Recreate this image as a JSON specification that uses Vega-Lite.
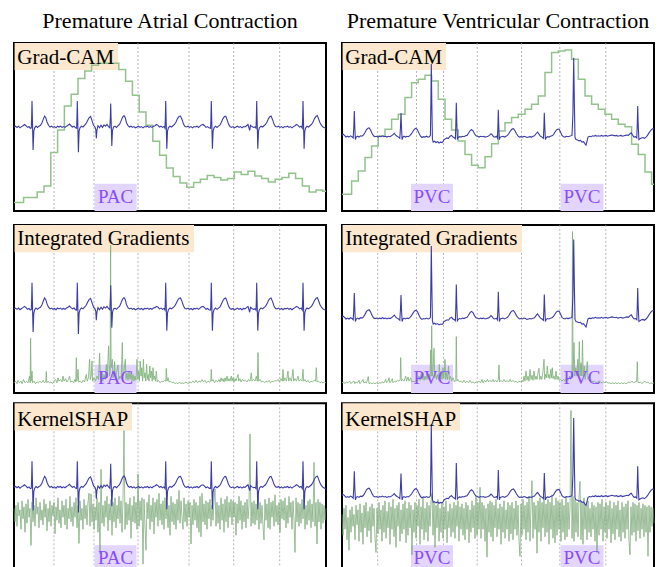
{
"$schema": "https://vega.github.io/schema/vega-lite/v6.json",
"padding": {"left": 10, "top": 8, "right": 2, "bottom": 2},
"config": {"view": {"stroke": "#000", "strokeWidth": 2}, "title": {"font": "Liberation Serif", "fontSize": 22, "fontWeight": "normal", "color": "#000", "offset": 10}},
"datasets": {
"gA": [{"b":40},{"b":80},{"b":124},{"b":175},{"b":219.7},{"b":265.7}],
"gV": [{"b":35.7},{"b":74.5},{"b":101.5},{"b":135.2},{"b":179.5},{"b":217.8},{"b":263.8}],
"eA": [{"ev":"PAC","start":80.5,"end":122.5,"mid":101.5}],
"eV": [{"ev":"PVC","start":69,"end":111,"mid":90},{"ev":"PVC","start":218.5,"end":261.5,"mid":240}],
"cA": [{"t":0,"a":0.05},{"t":9.6,"a":0.08},{"t":16.4,"a":0.08},{"t":23.2,"a":0.113},{"t":30,"a":0.149},{"t":36.8,"a":0.348},{"t":43.6,"a":0.482},{"t":50.4,"a":0.625},{"t":57.2,"a":0.695},{"t":64,"a":0.788},{"t":70.8,"a":0.833},{"t":77.6,"a":0.867},{"t":84.4,"a":0.879},{"t":91.2,"a":0.879},{"t":98,"a":0.879},{"t":104.8,"a":0.842},{"t":111.6,"a":0.772},{"t":118.4,"a":0.689},{"t":125.2,"a":0.589},{"t":132,"a":0.51},{"t":138.8,"a":0.415},{"t":145.6,"a":0.332},{"t":152.4,"a":0.256},{"t":159.2,"a":0.205},{"t":166,"a":0.167},{"t":172.8,"a":0.141},{"t":179.6,"a":0.169},{"t":186.4,"a":0.189},{"t":193.2,"a":0.212},{"t":200,"a":0.199},{"t":206.8,"a":0.185},{"t":213.6,"a":0.193},{"t":220.4,"a":0.232},{"t":227.2,"a":0.218},{"t":234,"a":0.236},{"t":240.8,"a":0.208},{"t":247.6,"a":0.193},{"t":254.4,"a":0.173},{"t":261.2,"a":0.189},{"t":268,"a":0.199},{"t":274.8,"a":0.224},{"t":281.6,"a":0.193},{"t":288.4,"a":0.149},{"t":295.2,"a":0.113},{"t":302,"a":0.125},{"t":308.8,"a":0.117},{"t":312,"a":0.117}],
"cV": [{"t":0,"a":0.1},{"t":9.6,"a":0.179},{"t":16.3,"a":0.238},{"t":23,"a":0.318},{"t":29.6,"a":0.387},{"t":36.3,"a":0.447},{"t":43,"a":0.486},{"t":49.6,"a":0.546},{"t":56.3,"a":0.576},{"t":63,"a":0.675},{"t":69.6,"a":0.764},{"t":76.3,"a":0.784},{"t":83,"a":0.808},{"t":89.6,"a":0.774},{"t":96.3,"a":0.665},{"t":103,"a":0.546},{"t":109.6,"a":0.482},{"t":116.3,"a":0.417},{"t":123,"a":0.337},{"t":129.6,"a":0.272},{"t":136.3,"a":0.258},{"t":143,"a":0.323},{"t":149.6,"a":0.4},{"t":156.3,"a":0.476},{"t":163,"a":0.526},{"t":169.6,"a":0.556},{"t":176.3,"a":0.576},{"t":183,"a":0.605},{"t":189.6,"a":0.635},{"t":196.3,"a":0.685},{"t":203,"a":0.824},{"t":209.6,"a":0.943},{"t":216.3,"a":0.953},{"t":223,"a":0.959},{"t":229.6,"a":0.903},{"t":236.3,"a":0.784},{"t":243,"a":0.685},{"t":249.6,"a":0.635},{"t":256.3,"a":0.605},{"t":263,"a":0.576},{"t":269.6,"a":0.546},{"t":276.3,"a":0.516},{"t":283,"a":0.502},{"t":289.6,"a":0.397},{"t":296.3,"a":0.337},{"t":303,"a":0.232},{"t":309.6,"a":0.159},{"t":312,"a":0.159}],
"ecgA": [{"t":0,"v":0},{"t":1.5,"v":0.02},{"t":3,"v":-0.01},{"t":4.5,"v":0.02},{"t":6,"v":-0.02},{"t":7.5,"v":0.01},{"t":9,"v":0.03},{"t":10.5,"v":0.06},{"t":12,"v":0.03},{"t":13.5,"v":-0.01},{"t":15,"v":0.01},{"t":16.3,"v":-0.03},{"t":17.3,"v":-0.02},{"t":17.7,"v":0.25},{"t":18,"v":0.62},{"t":18.4,"v":0.2},{"t":19.1,"v":-0.55},{"t":19.8,"v":-0.1},{"t":20.7,"v":-0.02},{"t":22,"v":0.02},{"t":23.5,"v":-0.01},{"t":25,"v":0.02},{"t":26.5,"v":0.04},{"t":28,"v":0.1},{"t":29.5,"v":0.2},{"t":30.6,"v":0.26},{"t":31.8,"v":0.22},{"t":33,"v":0.12},{"t":34.5,"v":0.04},{"t":36,"v":0},{"t":37.5,"v":0.02},{"t":39,"v":-0.01},{"t":40.5,"v":0.01},{"t":42,"v":-0.02},{"t":43.5,"v":0.02},{"t":45,"v":0},{"t":46.5,"v":0.02},{"t":48,"v":-0.01},{"t":49.5,"v":0.01},{"t":51,"v":-0.01},{"t":52.5,"v":0.02},{"t":54,"v":0.04},{"t":55.5,"v":0.07},{"t":57,"v":0.03},{"t":58.5,"v":0},{"t":60,"v":0.02},{"t":61.5,"v":-0.02},{"t":62.6,"v":-0.03},{"t":63,"v":0.25},{"t":63.3,"v":0.62},{"t":63.7,"v":0.2},{"t":64.4,"v":-0.6},{"t":65.1,"v":-0.1},{"t":66,"v":-0.02},{"t":67.5,"v":0.02},{"t":69,"v":0},{"t":70.5,"v":0.04},{"t":72,"v":0.08},{"t":73.5,"v":0.15},{"t":75,"v":0.22},{"t":76.6,"v":0.25},{"t":78,"v":0.15},{"t":79.5,"v":0.04},{"t":81,"v":0},{"t":81.8,"v":-0.06},{"t":82.3,"v":-0.27},{"t":82.9,"v":-0.08},{"t":84,"v":0.03},{"t":85.5,"v":-0.02},{"t":87,"v":0.04},{"t":88.5,"v":-0.01},{"t":90,"v":0.05},{"t":91.5,"v":0.02},{"t":93,"v":0.06},{"t":94.5,"v":0.01},{"t":95.8,"v":-0.02},{"t":96.4,"v":0.25},{"t":96.7,"v":0.56},{"t":97.1,"v":0.2},{"t":97.8,"v":-0.45},{"t":98.5,"v":-0.08},{"t":99.5,"v":0},{"t":101,"v":0.02},{"t":102.5,"v":-0.01},{"t":104,"v":0.03},{"t":105.5,"v":0.06},{"t":107,"v":0.14},{"t":108.5,"v":0.23},{"t":110,"v":0.27},{"t":111.3,"v":0.22},{"t":112.5,"v":0.1},{"t":114,"v":0.03},{"t":115.5,"v":0},{"t":117,"v":0.02},{"t":118.5,"v":-0.01},{"t":120,"v":0.01},{"t":121.5,"v":-0.02},{"t":123,"v":0},{"t":124.5,"v":0.02},{"t":126,"v":-0.01},{"t":127.5,"v":0.01},{"t":129,"v":-0.02},{"t":130.5,"v":0.01},{"t":132,"v":0},{"t":133.5,"v":0.02},{"t":135,"v":-0.01},{"t":136.5,"v":0.01},{"t":138,"v":-0.01},{"t":139.5,"v":0.02},{"t":141,"v":0.03},{"t":142.5,"v":0.06},{"t":144,"v":0.04},{"t":145.5,"v":0},{"t":147,"v":0.02},{"t":148.5,"v":-0.01},{"t":150,"v":0.01},{"t":151,"v":-0.03},{"t":151.4,"v":0.25},{"t":151.7,"v":0.62},{"t":152.1,"v":0.2},{"t":152.8,"v":-0.52},{"t":153.5,"v":-0.1},{"t":154.4,"v":-0.02},{"t":156,"v":0.02},{"t":157.5,"v":0},{"t":159,"v":0.03},{"t":160.5,"v":0.06},{"t":162,"v":0.12},{"t":163.5,"v":0.2},{"t":165,"v":0.25},{"t":166.5,"v":0.26},{"t":168,"v":0.18},{"t":169.5,"v":0.07},{"t":171,"v":0.01},{"t":172.5,"v":0},{"t":174,"v":0.02},{"t":175.5,"v":-0.01},{"t":177,"v":0.01},{"t":178.5,"v":-0.02},{"t":180,"v":0.01},{"t":181.5,"v":0},{"t":183,"v":0.02},{"t":184.5,"v":-0.01},{"t":186,"v":0.02},{"t":187.5,"v":0.05},{"t":189,"v":0.06},{"t":190.5,"v":0.03},{"t":192,"v":-0.01},{"t":193.5,"v":0.01},{"t":195,"v":-0.02},{"t":196.6,"v":-0.03},{"t":197,"v":0.25},{"t":197.3,"v":0.62},{"t":197.7,"v":0.2},{"t":198.4,"v":-0.52},{"t":199.1,"v":-0.1},{"t":200,"v":-0.02},{"t":201.5,"v":0.02},{"t":203,"v":-0.01},{"t":204.5,"v":0.02},{"t":206,"v":0.05},{"t":207.5,"v":0.12},{"t":209,"v":0.2},{"t":210.5,"v":0.25},{"t":211.7,"v":0.26},{"t":213,"v":0.18},{"t":214.5,"v":0.07},{"t":216,"v":0.01},{"t":217.5,"v":-0.01},{"t":219,"v":0.01},{"t":220.5,"v":-0.02},{"t":222,"v":0},{"t":223.5,"v":0.02},{"t":225,"v":-0.01},{"t":226.5,"v":0.01},{"t":228,"v":-0.02},{"t":229.5,"v":0.01},{"t":231,"v":0},{"t":232.5,"v":0.03},{"t":234,"v":0.06},{"t":235.7,"v":-0.08},{"t":236.5,"v":0.04},{"t":238,"v":0.01},{"t":239.5,"v":-0.01},{"t":241,"v":0},{"t":242,"v":-0.03},{"t":242.4,"v":0.25},{"t":242.7,"v":0.62},{"t":243.1,"v":0.2},{"t":243.8,"v":-0.52},{"t":244.5,"v":-0.1},{"t":245.4,"v":-0.02},{"t":247,"v":0.02},{"t":248.5,"v":0},{"t":250,"v":0.03},{"t":251.5,"v":0.06},{"t":253,"v":0.12},{"t":254.5,"v":0.2},{"t":256,"v":0.25},{"t":257,"v":0.26},{"t":258.5,"v":0.18},{"t":260,"v":0.07},{"t":261.5,"v":0.01},{"t":263,"v":0},{"t":264.5,"v":0.02},{"t":266,"v":-0.01},{"t":267.5,"v":0.01},{"t":269,"v":-0.02},{"t":270.5,"v":0.01},{"t":272,"v":0},{"t":273.5,"v":0.02},{"t":275,"v":-0.01},{"t":276.5,"v":0.01},{"t":278,"v":-0.02},{"t":279.5,"v":0.01},{"t":281,"v":0.03},{"t":282.5,"v":0.06},{"t":284,"v":0.04},{"t":285.5,"v":0},{"t":287,"v":0.02},{"t":288.3,"v":-0.03},{"t":288.7,"v":0.25},{"t":289,"v":0.62},{"t":289.4,"v":0.2},{"t":290.1,"v":-0.52},{"t":290.8,"v":-0.1},{"t":291.7,"v":-0.02},{"t":293,"v":0.02},{"t":294.5,"v":0},{"t":296,"v":0.03},{"t":297.5,"v":0.06},{"t":299,"v":0.12},{"t":300.5,"v":0.2},{"t":302,"v":0.25},{"t":303.3,"v":0.27},{"t":304.5,"v":0.2},{"t":306,"v":0.1},{"t":307.5,"v":0.04},{"t":309,"v":0},{"t":310.5,"v":-0.02},{"t":312,"v":-0.03}],
"ecgV": [{"t":0,"v":-0.2},{"t":1,"v":-0.17},{"t":2.5,"v":-0.2},{"t":4,"v":-0.24},{"t":5.5,"v":-0.22},{"t":7,"v":-0.24},{"t":8.5,"v":-0.21},{"t":10,"v":-0.23},{"t":11.2,"v":-0.26},{"t":11.8,"v":0},{"t":12.3,"v":0.38},{"t":12.8,"v":0},{"t":13.4,"v":-0.3},{"t":14.2,"v":-0.24},{"t":15.5,"v":-0.22},{"t":17,"v":-0.24},{"t":18.5,"v":-0.21},{"t":20,"v":-0.22},{"t":21.5,"v":-0.19},{"t":23,"v":-0.13},{"t":24.5,"v":-0.06},{"t":26,"v":-0.03},{"t":27.2,"v":-0.02},{"t":28.5,"v":-0.07},{"t":30,"v":-0.15},{"t":31.5,"v":-0.21},{"t":33,"v":-0.23},{"t":34.5,"v":-0.22},{"t":36,"v":-0.24},{"t":37.5,"v":-0.22},{"t":39,"v":-0.23},{"t":40.5,"v":-0.21},{"t":42,"v":-0.23},{"t":43.5,"v":-0.22},{"t":45,"v":-0.24},{"t":46.5,"v":-0.22},{"t":48,"v":-0.23},{"t":49.5,"v":-0.21},{"t":51,"v":-0.18},{"t":52.3,"v":-0.15},{"t":53.5,"v":-0.19},{"t":55,"v":-0.22},{"t":56.5,"v":-0.24},{"t":57.8,"v":-0.27},{"t":58.5,"v":0},{"t":59,"v":0.33},{"t":59.5,"v":0},{"t":60.1,"v":-0.3},{"t":60.9,"v":-0.24},{"t":62,"v":-0.22},{"t":63.5,"v":-0.24},{"t":65,"v":-0.22},{"t":66.5,"v":-0.23},{"t":68,"v":-0.2},{"t":69.5,"v":-0.16},{"t":71,"v":-0.1},{"t":72.5,"v":-0.05},{"t":74,"v":-0.03},{"t":75.5,"v":-0.07},{"t":77,"v":-0.15},{"t":78.5,"v":-0.22},{"t":80,"v":-0.25},{"t":81.5,"v":-0.23},{"t":83,"v":-0.24},{"t":84.5,"v":-0.22},{"t":86,"v":-0.24},{"t":87.5,"v":-0.23},{"t":88.4,"v":-0.2},{"t":88.9,"v":0.6},{"t":89.3,"v":1.5},{"t":89.8,"v":0.6},{"t":90.4,"v":-0.28},{"t":91.2,"v":-0.36},{"t":92.5,"v":-0.34},{"t":94,"v":-0.37},{"t":95.5,"v":-0.35},{"t":97,"v":-0.38},{"t":98.5,"v":-0.36},{"t":100,"v":-0.37},{"t":101,"v":-0.35},{"t":102,"v":-0.3},{"t":103.5,"v":-0.28},{"t":105,"v":-0.26},{"t":106.5,"v":-0.27},{"t":108,"v":-0.22},{"t":109.5,"v":-0.2},{"t":111,"v":-0.24},{"t":112.5,"v":-0.26},{"t":113.4,"v":-0.28},{"t":113.9,"v":0.1},{"t":114.3,"v":0.58},{"t":114.8,"v":0.1},{"t":115.4,"v":-0.28},{"t":116.2,"v":-0.25},{"t":117.5,"v":-0.23},{"t":119,"v":-0.24},{"t":120.5,"v":-0.22},{"t":122,"v":-0.23},{"t":123.5,"v":-0.21},{"t":125,"v":-0.2},{"t":126.5,"v":-0.15},{"t":128,"v":-0.09},{"t":129.5,"v":-0.06},{"t":131,"v":-0.09},{"t":132.5,"v":-0.16},{"t":134,"v":-0.21},{"t":135.5,"v":-0.22},{"t":137,"v":-0.24},{"t":138.5,"v":-0.22},{"t":140,"v":-0.23},{"t":141.5,"v":-0.22},{"t":143,"v":-0.24},{"t":144.5,"v":-0.23},{"t":146,"v":-0.22},{"t":147.5,"v":-0.2},{"t":149,"v":-0.16},{"t":150.3,"v":-0.19},{"t":151.5,"v":-0.23},{"t":153,"v":-0.24},{"t":154.5,"v":-0.22},{"t":155.4,"v":-0.26},{"t":155.9,"v":0},{"t":156.3,"v":0.41},{"t":156.8,"v":0},{"t":157.4,"v":-0.3},{"t":158.2,"v":-0.24},{"t":159.5,"v":-0.23},{"t":161,"v":-0.22},{"t":162.5,"v":-0.24},{"t":164,"v":-0.22},{"t":165.5,"v":-0.2},{"t":167,"v":-0.15},{"t":168.5,"v":-0.09},{"t":170,"v":-0.05},{"t":171.5,"v":-0.04},{"t":173,"v":-0.09},{"t":174.5,"v":-0.16},{"t":176,"v":-0.21},{"t":177.5,"v":-0.24},{"t":179,"v":-0.23},{"t":180.5,"v":-0.24},{"t":182,"v":-0.22},{"t":183.5,"v":-0.23},{"t":185,"v":-0.25},{"t":186.5,"v":-0.24},{"t":188,"v":-0.23},{"t":189.5,"v":-0.24},{"t":191,"v":-0.22},{"t":192.5,"v":-0.21},{"t":194,"v":-0.16},{"t":195.5,"v":-0.12},{"t":197,"v":-0.17},{"t":198.5,"v":-0.22},{"t":200,"v":-0.24},{"t":201.4,"v":-0.27},{"t":201.9,"v":0},{"t":202.3,"v":0.34},{"t":202.8,"v":0},{"t":203.4,"v":-0.3},{"t":204.2,"v":-0.25},{"t":205.5,"v":-0.23},{"t":207,"v":-0.24},{"t":208.5,"v":-0.22},{"t":210,"v":-0.21},{"t":211.5,"v":-0.18},{"t":213,"v":-0.12},{"t":214.5,"v":-0.07},{"t":216,"v":-0.05},{"t":217.3,"v":-0.06},{"t":218.5,"v":-0.12},{"t":220,"v":-0.2},{"t":221.5,"v":-0.23},{"t":223,"v":-0.24},{"t":224.5,"v":-0.22},{"t":226,"v":-0.23},{"t":227.5,"v":-0.22},{"t":229,"v":-0.21},{"t":230,"v":-0.2},{"t":230.9,"v":0.3},{"t":231.7,"v":1.65},{"t":232.4,"v":0.5},{"t":233,"v":-0.25},{"t":234,"v":-0.3},{"t":235.5,"v":-0.31},{"t":237,"v":-0.33},{"t":238.5,"v":-0.32},{"t":240,"v":-0.36},{"t":241.5,"v":-0.35},{"t":243,"v":-0.4},{"t":244,"v":-0.43},{"t":245,"v":-0.34},{"t":246,"v":-0.24},{"t":247.5,"v":-0.22},{"t":249,"v":-0.23},{"t":250.5,"v":-0.21},{"t":252,"v":-0.22},{"t":253.5,"v":-0.2},{"t":255,"v":-0.22},{"t":256.5,"v":-0.21},{"t":258,"v":-0.22},{"t":259.5,"v":-0.2},{"t":261,"v":-0.22},{"t":262.5,"v":-0.21},{"t":264,"v":-0.2},{"t":265.5,"v":-0.22},{"t":267,"v":-0.21},{"t":268.5,"v":-0.2},{"t":270,"v":-0.19},{"t":271.5,"v":-0.2},{"t":273,"v":-0.21},{"t":274.5,"v":-0.2},{"t":276,"v":-0.22},{"t":277.5,"v":-0.21},{"t":279,"v":-0.2},{"t":280.5,"v":-0.22},{"t":282,"v":-0.21},{"t":283.5,"v":-0.2},{"t":285,"v":-0.19},{"t":286.5,"v":-0.2},{"t":288,"v":-0.16},{"t":289.3,"v":-0.14},{"t":290.5,"v":-0.19},{"t":292,"v":-0.24},{"t":293.5,"v":-0.23},{"t":294.8,"v":-0.26},{"t":295.3,"v":0.1},{"t":295.7,"v":0.5},{"t":296.2,"v":0.05},{"t":296.9,"v":-0.3},{"t":298,"v":-0.28},{"t":299.5,"v":-0.26},{"t":301,"v":-0.25},{"t":302.5,"v":-0.27},{"t":304,"v":-0.24},{"t":305.5,"v":-0.2},{"t":307,"v":-0.14},{"t":308.5,"v":-0.09},{"t":310,"v":-0.05},{"t":311,"v":-0.04},{"t":312,"v":-0.05}],
"iA": [{"t":0,"a":0.06},{"t":1.5,"a":0.07},{"t":3,"a":0.055},{"t":4,"a":0.075},{"t":5.5,"a":0.06},{"t":7,"a":0.07},{"t":8,"a":0.055},{"t":9.5,"a":0.08},{"t":11,"a":0.06},{"t":12.5,"a":0.07},{"t":14,"a":0.06},{"t":15.5,"a":0.1},{"t":16.2,"a":0.06},{"t":16.6,"a":0.325},{"t":17.1,"a":0.07},{"t":18,"a":0.13},{"t":18.6,"a":0.06},{"t":20,"a":0.07},{"t":21.5,"a":0.055},{"t":23,"a":0.065},{"t":24.5,"a":0.06},{"t":26,"a":0.07},{"t":27.5,"a":0.06},{"t":29,"a":0.075},{"t":30.5,"a":0.06},{"t":31.8,"a":0.07},{"t":32.3,"a":0.127},{"t":32.8,"a":0.06},{"t":34,"a":0.07},{"t":35.5,"a":0.06},{"t":37,"a":0.065},{"t":38.5,"a":0.055},{"t":40,"a":0.07},{"t":41.5,"a":0.08},{"t":43,"a":0.06},{"t":44,"a":0.09},{"t":45,"a":0.07},{"t":46.5,"a":0.08},{"t":48,"a":0.065},{"t":49,"a":0.1},{"t":50,"a":0.07},{"t":51.5,"a":0.085},{"t":53,"a":0.065},{"t":54.5,"a":0.08},{"t":55.6,"a":0.1},{"t":56.5,"a":0.065},{"t":58,"a":0.07},{"t":59.5,"a":0.06},{"t":61,"a":0.08},{"t":61.8,"a":0.065},{"t":62.3,"a":0.21},{"t":62.9,"a":0.07},{"t":64,"a":0.14},{"t":64.7,"a":0.065},{"t":66,"a":0.07},{"t":67.5,"a":0.06},{"t":69,"a":0.075},{"t":70.5,"a":0.065},{"t":72.3,"a":0.11},{"t":73.2,"a":0.07},{"t":74.5,"a":0.09},{"t":75.6,"a":0.2},{"t":76.3,"a":0.08},{"t":77.2,"a":0.1},{"t":78,"a":0.19},{"t":78.7,"a":0.07},{"t":80,"a":0.09},{"t":81.5,"a":0.07},{"t":83,"a":0.1},{"t":84.5,"a":0.08},{"t":85.6,"a":0.236},{"t":86.4,"a":0.08},{"t":87.2,"a":0.12},{"t":88,"a":0.13},{"t":88.8,"a":0.07},{"t":90,"a":0.11},{"t":91.2,"a":0.08},{"t":92.3,"a":0.17},{"t":93.2,"a":0.09},{"t":94.6,"a":0.28},{"t":95.5,"a":0.1},{"t":96.2,"a":0.12},{"t":96.6,"a":0.88},{"t":97.1,"a":0.15},{"t":98.3,"a":0.2},{"t":99,"a":0.09},{"t":100,"a":0.12},{"t":100.6,"a":0.186},{"t":101.4,"a":0.09},{"t":102.5,"a":0.12},{"t":104,"a":0.166},{"t":104.8,"a":0.08},{"t":106,"a":0.1},{"t":107.2,"a":0.085},{"t":108.3,"a":0.3},{"t":109,"a":0.1},{"t":110,"a":0.13},{"t":111.3,"a":0.2},{"t":112,"a":0.08},{"t":113,"a":0.12},{"t":114,"a":0.075},{"t":115,"a":0.13},{"t":116,"a":0.08},{"t":117,"a":0.12},{"t":118,"a":0.075},{"t":119,"a":0.11},{"t":120,"a":0.07},{"t":121,"a":0.1},{"t":122,"a":0.075},{"t":123,"a":0.2},{"t":123.8,"a":0.08},{"t":124.6,"a":0.13},{"t":125.4,"a":0.07},{"t":126.2,"a":0.19},{"t":127,"a":0.1},{"t":127.8,"a":0.15},{"t":128.6,"a":0.07},{"t":129.4,"a":0.2},{"t":130.2,"a":0.09},{"t":131,"a":0.12},{"t":131.8,"a":0.07},{"t":132.6,"a":0.17},{"t":133.4,"a":0.08},{"t":134.2,"a":0.11},{"t":135,"a":0.07},{"t":135.8,"a":0.16},{"t":136.6,"a":0.09},{"t":137.4,"a":0.13},{"t":138.2,"a":0.07},{"t":139,"a":0.15},{"t":139.8,"a":0.08},{"t":140.6,"a":0.1},{"t":141.4,"a":0.07},{"t":142.3,"a":0.13},{"t":143.2,"a":0.065},{"t":144.5,"a":0.075},{"t":146,"a":0.06},{"t":147.5,"a":0.07},{"t":149,"a":0.065},{"t":150.5,"a":0.075},{"t":151.8,"a":0.07},{"t":152.3,"a":0.146},{"t":153,"a":0.07},{"t":154,"a":0.09},{"t":155,"a":0.065},{"t":156.5,"a":0.07},{"t":158,"a":0.06},{"t":159.5,"a":0.065},{"t":161,"a":0.055},{"t":162.5,"a":0.06},{"t":164,"a":0.055},{"t":165.5,"a":0.065},{"t":167,"a":0.055},{"t":168.5,"a":0.06},{"t":170,"a":0.055},{"t":171.5,"a":0.065},{"t":173,"a":0.06},{"t":174.5,"a":0.055},{"t":176,"a":0.065},{"t":177.5,"a":0.06},{"t":179,"a":0.07},{"t":180.5,"a":0.06},{"t":182,"a":0.075},{"t":183.5,"a":0.06},{"t":185,"a":0.07},{"t":186.5,"a":0.065},{"t":188,"a":0.08},{"t":189.5,"a":0.065},{"t":191,"a":0.075},{"t":192.5,"a":0.06},{"t":194,"a":0.07},{"t":195.5,"a":0.065},{"t":196.8,"a":0.07},{"t":197.3,"a":0.14},{"t":197.8,"a":0.07},{"t":199,"a":0.08},{"t":200.5,"a":0.06},{"t":202,"a":0.075},{"t":203.5,"a":0.065},{"t":205,"a":0.08},{"t":206,"a":0.065},{"t":207,"a":0.09},{"t":208,"a":0.07},{"t":209,"a":0.085},{"t":210,"a":0.065},{"t":211,"a":0.09},{"t":212,"a":0.07},{"t":213,"a":0.1},{"t":214,"a":0.07},{"t":215,"a":0.085},{"t":216,"a":0.07},{"t":217.3,"a":0.1},{"t":218,"a":0.07},{"t":219,"a":0.09},{"t":220,"a":0.065},{"t":221,"a":0.085},{"t":222,"a":0.07},{"t":223,"a":0.09},{"t":224,"a":0.11},{"t":224.7,"a":0.07},{"t":226,"a":0.085},{"t":227,"a":0.065},{"t":228.5,"a":0.08},{"t":230,"a":0.07},{"t":231.5,"a":0.075},{"t":233,"a":0.065},{"t":234.5,"a":0.08},{"t":236,"a":0.07},{"t":237.3,"a":0.12},{"t":238,"a":0.07},{"t":239.5,"a":0.08},{"t":241,"a":0.07},{"t":242.3,"a":0.1},{"t":243.3,"a":0.07},{"t":244,"a":0.24},{"t":244.6,"a":0.07},{"t":246,"a":0.08},{"t":247.5,"a":0.065},{"t":249,"a":0.07},{"t":250.5,"a":0.06},{"t":252,"a":0.07},{"t":253.5,"a":0.065},{"t":255,"a":0.075},{"t":256.5,"a":0.06},{"t":258,"a":0.07},{"t":259.5,"a":0.065},{"t":261,"a":0.075},{"t":262.5,"a":0.07},{"t":264,"a":0.08},{"t":265.5,"a":0.065},{"t":267,"a":0.085},{"t":268.3,"a":0.07},{"t":269,"a":0.14},{"t":269.7,"a":0.07},{"t":271,"a":0.09},{"t":272.5,"a":0.07},{"t":274,"a":0.13},{"t":274.7,"a":0.07},{"t":276,"a":0.09},{"t":277.5,"a":0.07},{"t":279,"a":0.14},{"t":279.7,"a":0.07},{"t":281,"a":0.085},{"t":282.5,"a":0.07},{"t":284,"a":0.1},{"t":285,"a":0.07},{"t":286.5,"a":0.08},{"t":288,"a":0.07},{"t":289,"a":0.14},{"t":289.7,"a":0.07},{"t":291,"a":0.08},{"t":292.5,"a":0.065},{"t":294,"a":0.075},{"t":295.5,"a":0.06},{"t":297,"a":0.07},{"t":298.5,"a":0.065},{"t":300,"a":0.075},{"t":301.6,"a":0.07},{"t":302.3,"a":0.15},{"t":303,"a":0.065},{"t":304.5,"a":0.07},{"t":306,"a":0.06},{"t":307.5,"a":0.065},{"t":309,"a":0.06},{"t":310.5,"a":0.065},{"t":312,"a":0.06}],
"iV": [{"t":0,"a":0.06},{"t":1.5,"a":0.065},{"t":3,"a":0.055},{"t":4.5,"a":0.065},{"t":6,"a":0.06},{"t":7.5,"a":0.07},{"t":9,"a":0.055},{"t":10.5,"a":0.065},{"t":12,"a":0.071},{"t":12.8,"a":0.055},{"t":14,"a":0.065},{"t":15.5,"a":0.06},{"t":17,"a":0.075},{"t":17.8,"a":0.055},{"t":19.5,"a":0.065},{"t":21,"a":0.08},{"t":21.8,"a":0.06},{"t":23,"a":0.065},{"t":24.5,"a":0.06},{"t":26.3,"a":0.097},{"t":27,"a":0.055},{"t":28.5,"a":0.06},{"t":30,"a":0.055},{"t":31.5,"a":0.06},{"t":33,"a":0.055},{"t":34.5,"a":0.06},{"t":36,"a":0.055},{"t":37.5,"a":0.06},{"t":39,"a":0.058},{"t":40.5,"a":0.065},{"t":42,"a":0.06},{"t":43.7,"a":0.08},{"t":44.5,"a":0.06},{"t":46,"a":0.07},{"t":47,"a":0.09},{"t":47.8,"a":0.06},{"t":49,"a":0.07},{"t":50.3,"a":0.085},{"t":51,"a":0.06},{"t":52.5,"a":0.07},{"t":54,"a":0.065},{"t":55.5,"a":0.075},{"t":57,"a":0.07},{"t":58.2,"a":0.08},{"t":58.7,"a":0.21},{"t":59.3,"a":0.07},{"t":60.5,"a":0.08},{"t":62,"a":0.07},{"t":63.7,"a":0.1},{"t":64.5,"a":0.07},{"t":66,"a":0.095},{"t":67,"a":0.07},{"t":68.7,"a":0.09},{"t":69.5,"a":0.065},{"t":71,"a":0.07},{"t":72.5,"a":0.065},{"t":74,"a":0.075},{"t":75.5,"a":0.07},{"t":77,"a":0.1},{"t":78,"a":0.075},{"t":79,"a":0.11},{"t":80,"a":0.08},{"t":81,"a":0.12},{"t":82,"a":0.075},{"t":83,"a":0.1},{"t":84,"a":0.08},{"t":85,"a":0.12},{"t":86,"a":0.08},{"t":87,"a":0.11},{"t":88,"a":0.09},{"t":88.7,"a":0.256},{"t":89.2,"a":0.1},{"t":89.7,"a":0.4},{"t":90.3,"a":0.1},{"t":91.2,"a":0.15},{"t":92,"a":0.266},{"t":92.7,"a":0.09},{"t":93.5,"a":0.12},{"t":94.5,"a":0.08},{"t":95.5,"a":0.11},{"t":96.5,"a":0.08},{"t":97.3,"a":0.17},{"t":98,"a":0.085},{"t":99,"a":0.13},{"t":100,"a":0.08},{"t":101,"a":0.15},{"t":101.8,"a":0.085},{"t":103,"a":0.2},{"t":103.7,"a":0.08},{"t":104.5,"a":0.12},{"t":105.5,"a":0.08},{"t":106.5,"a":0.16},{"t":107.3,"a":0.08},{"t":108.5,"a":0.1},{"t":109.5,"a":0.07},{"t":111,"a":0.09},{"t":112.5,"a":0.065},{"t":113.8,"a":0.08},{"t":114.3,"a":0.335},{"t":114.9,"a":0.07},{"t":116,"a":0.08},{"t":117.5,"a":0.065},{"t":119,"a":0.07},{"t":120.5,"a":0.06},{"t":122,"a":0.075},{"t":123.5,"a":0.06},{"t":125,"a":0.07},{"t":126.5,"a":0.06},{"t":128,"a":0.075},{"t":129.5,"a":0.06},{"t":131,"a":0.065},{"t":132.5,"a":0.058},{"t":134,"a":0.065},{"t":135.5,"a":0.06},{"t":137,"a":0.07},{"t":138.5,"a":0.06},{"t":140,"a":0.08},{"t":141,"a":0.06},{"t":142.5,"a":0.075},{"t":144,"a":0.065},{"t":145.5,"a":0.08},{"t":146.5,"a":0.065},{"t":148,"a":0.075},{"t":149.5,"a":0.065},{"t":151,"a":0.08},{"t":152,"a":0.065},{"t":153.5,"a":0.075},{"t":155,"a":0.065},{"t":156.4,"a":0.08},{"t":157,"a":0.166},{"t":157.6,"a":0.065},{"t":159,"a":0.075},{"t":160.5,"a":0.065},{"t":162,"a":0.08},{"t":163.5,"a":0.065},{"t":165,"a":0.075},{"t":166.5,"a":0.065},{"t":168,"a":0.08},{"t":169.5,"a":0.065},{"t":171,"a":0.075},{"t":172.5,"a":0.065},{"t":174,"a":0.07},{"t":175.5,"a":0.06},{"t":177,"a":0.07},{"t":178.5,"a":0.065},{"t":180,"a":0.075},{"t":181,"a":0.065},{"t":182,"a":0.1},{"t":183,"a":0.07},{"t":184,"a":0.13},{"t":185,"a":0.075},{"t":186,"a":0.1},{"t":187,"a":0.07},{"t":188,"a":0.14},{"t":189,"a":0.08},{"t":190,"a":0.105},{"t":191,"a":0.075},{"t":192,"a":0.13},{"t":193,"a":0.08},{"t":194,"a":0.1},{"t":195,"a":0.08},{"t":196,"a":0.12},{"t":197,"a":0.147},{"t":197.8,"a":0.08},{"t":198.8,"a":0.1},{"t":199.8,"a":0.08},{"t":201,"a":0.13},{"t":202,"a":0.2},{"t":202.7,"a":0.08},{"t":203.6,"a":0.11},{"t":204.4,"a":0.09},{"t":205.3,"a":0.16},{"t":206.2,"a":0.09},{"t":207,"a":0.11},{"t":207.9,"a":0.085},{"t":208.8,"a":0.14},{"t":209.6,"a":0.09},{"t":210.3,"a":0.15},{"t":211,"a":0.085},{"t":212,"a":0.1},{"t":213,"a":0.08},{"t":214,"a":0.13},{"t":215,"a":0.08},{"t":216,"a":0.1},{"t":217,"a":0.075},{"t":218.5,"a":0.08},{"t":220,"a":0.07},{"t":221.5,"a":0.08},{"t":223,"a":0.07},{"t":224.5,"a":0.09},{"t":226,"a":0.075},{"t":227.5,"a":0.1},{"t":228.5,"a":0.08},{"t":229.5,"a":0.12},{"t":230,"a":0.1},{"t":230.5,"a":0.96},{"t":231,"a":0.12},{"t":232,"a":0.3},{"t":232.8,"a":0.1},{"t":233.8,"a":0.15},{"t":234.8,"a":0.1},{"t":235.8,"a":0.2},{"t":236.5,"a":0.1},{"t":237.3,"a":0.305},{"t":238,"a":0.1},{"t":239,"a":0.18},{"t":239.8,"a":0.1},{"t":240.5,"a":0.315},{"t":241.2,"a":0.1},{"t":242.3,"a":0.16},{"t":243.2,"a":0.08},{"t":244.3,"a":0.12},{"t":245.3,"a":0.186},{"t":246,"a":0.08},{"t":247,"a":0.1},{"t":248,"a":0.07},{"t":249.5,"a":0.075},{"t":251,"a":0.065},{"t":252.5,"a":0.07},{"t":254,"a":0.06},{"t":255.5,"a":0.065},{"t":257,"a":0.06},{"t":258.5,"a":0.065},{"t":260,"a":0.058},{"t":261.5,"a":0.065},{"t":263,"a":0.06},{"t":264.5,"a":0.065},{"t":266,"a":0.058},{"t":267.5,"a":0.06},{"t":269,"a":0.055},{"t":270.5,"a":0.06},{"t":272,"a":0.055},{"t":273.5,"a":0.06},{"t":275,"a":0.055},{"t":276.5,"a":0.06},{"t":278,"a":0.055},{"t":279.5,"a":0.06},{"t":281,"a":0.055},{"t":282.5,"a":0.06},{"t":284,"a":0.055},{"t":285.5,"a":0.06},{"t":287,"a":0.065},{"t":288.5,"a":0.06},{"t":290,"a":0.07},{"t":291.5,"a":0.06},{"t":293,"a":0.065},{"t":294.7,"a":0.07},{"t":295.3,"a":0.186},{"t":295.9,"a":0.065},{"t":297,"a":0.06},{"t":298.5,"a":0.065},{"t":300,"a":0.055},{"t":301.5,"a":0.065},{"t":303,"a":0.07},{"t":304.5,"a":0.06},{"t":306,"a":0.065},{"t":307.5,"a":0.055},{"t":309,"a":0.06},{"t":310.5,"a":0.055},{"t":312,"a":0.06}],
"kA": [{"t":0,"s":0.1},{"t":1,"s":-0.35},{"t":2,"s":0.2},{"t":3,"s":-0.5},{"t":4,"s":0.3},{"t":5,"s":-0.15},{"t":6,"s":0.05},{"t":7,"s":-0.6},{"t":8,"s":0.35},{"t":9,"s":-0.25},{"t":10,"s":0.15},{"t":11,"s":-0.7},{"t":12,"s":0.25},{"t":13,"s":-0.4},{"t":14,"s":0.4},{"t":15,"s":-0.2},{"t":16,"s":0.1},{"t":17,"s":-1.14},{"t":18,"s":0.3},{"t":19,"s":-0.35},{"t":20,"s":0.2},{"t":21,"s":-0.5},{"t":22,"s":0.45},{"t":23,"s":-0.1},{"t":24,"s":0.15},{"t":25,"s":-0.55},{"t":26,"s":0.3},{"t":27,"s":-0.3},{"t":28,"s":0.05},{"t":29,"s":-0.45},{"t":30,"s":0.4},{"t":31,"s":-0.2},{"t":32,"s":0.25},{"t":33,"s":-0.65},{"t":34,"s":0.1},{"t":35,"s":-0.35},{"t":36,"s":0.35},{"t":37,"s":-0.5},{"t":38,"s":0.2},{"t":39,"s":-0.15},{"t":40,"s":0.3},{"t":41,"s":-0.75},{"t":42,"s":0.15},{"t":43,"s":-0.3},{"t":44,"s":0.45},{"t":45,"s":-0.4},{"t":46,"s":0.05},{"t":47,"s":-0.55},{"t":48,"s":0.35},{"t":49,"s":-0.2},{"t":50,"s":0.2},{"t":51,"s":-0.45},{"t":52,"s":0.4},{"t":53,"s":-0.6},{"t":54,"s":0.1},{"t":55,"s":-0.25},{"t":56,"s":0.5},{"t":57,"s":-0.35},{"t":58,"s":0.15},{"t":59,"s":-0.5},{"t":60,"s":0.3},{"t":61,"s":-0.2},{"t":62,"s":0.45},{"t":63,"s":-0.55},{"t":64,"s":0.2},{"t":65,"s":-1.07},{"t":66,"s":0.35},{"t":67,"s":-0.3},{"t":68,"s":0.1},{"t":69,"s":-0.6},{"t":70,"s":0.4},{"t":71,"s":-0.25},{"t":72,"s":0.2},{"t":73,"s":-0.45},{"t":74,"s":0.3},{"t":75,"s":0.6},{"t":76,"s":-0.5},{"t":77,"s":0.58},{"t":78,"s":-0.35},{"t":79,"s":0.25},{"t":80,"s":-0.6},{"t":81,"s":0.15},{"t":82,"s":-0.3},{"t":83,"s":0.45},{"t":84,"s":-0.7},{"t":85,"s":0.3},{"t":86,"s":-1.42},{"t":87,"s":1.4},{"t":88,"s":-0.4},{"t":89,"s":0.2},{"t":90,"s":-0.5},{"t":91,"s":0.35},{"t":92,"s":-0.2},{"t":93,"s":0.5},{"t":94,"s":-0.65},{"t":95,"s":0.25},{"t":96,"s":-0.3},{"t":97,"s":0.4},{"t":98,"s":-0.8},{"t":99,"s":0.3},{"t":100,"s":-0.35},{"t":101,"s":0.45},{"t":102,"s":-0.55},{"t":103,"s":0.2},{"t":104,"s":-0.25},{"t":105,"s":0.5},{"t":106,"s":-0.4},{"t":107,"s":0.35},{"t":108,"s":-0.7},{"t":109,"s":0.4},{"t":110,"s":2.69},{"t":111,"s":-0.6},{"t":112,"s":0.3},{"t":113,"s":-0.45},{"t":114,"s":0.25},{"t":115,"s":-0.3},{"t":116,"s":0.45},{"t":117,"s":-0.9},{"t":118,"s":0.2},{"t":119,"s":-0.35},{"t":120,"s":0.5},{"t":121,"s":-0.4},{"t":122,"s":0.3},{"t":123,"s":-0.6},{"t":124,"s":1.24},{"t":125,"s":-0.5},{"t":126,"s":0.35},{"t":127,"s":-0.3},{"t":128,"s":0.45},{"t":129,"s":-1.76},{"t":130,"s":0.4},{"t":131,"s":-0.5},{"t":132,"s":-1.3},{"t":133,"s":0.3},{"t":134,"s":-0.25},{"t":135,"s":0.55},{"t":136,"s":-0.6},{"t":137,"s":0.2},{"t":138,"s":-0.35},{"t":139,"s":0.45},{"t":140,"s":-0.75},{"t":141,"s":0.3},{"t":142,"s":-0.2},{"t":143,"s":0.4},{"t":144,"s":-0.5},{"t":145,"s":0.6},{"t":146,"s":-0.3},{"t":147,"s":0.25},{"t":148,"s":-0.45},{"t":149,"s":0.35},{"t":150,"s":-0.6},{"t":151,"s":0.45},{"t":152,"s":-0.25},{"t":153,"s":0.3},{"t":154,"s":-0.55},{"t":155,"s":0.2},{"t":156,"s":-0.8},{"t":157,"s":0.5},{"t":158,"s":-0.35},{"t":159,"s":0.3},{"t":160,"s":-0.45},{"t":161,"s":0.25},{"t":162,"s":-0.6},{"t":163,"s":0.4},{"t":164,"s":-0.3},{"t":165,"s":0.7},{"t":166,"s":-0.4},{"t":167,"s":0.35},{"t":168,"s":-0.2},{"t":169,"s":-0.6},{"t":170,"s":0.45},{"t":171,"s":-0.35},{"t":172,"s":0.25},{"t":173,"s":-0.5},{"t":174,"s":0.35},{"t":175,"s":-0.2},{"t":176,"s":0.3},{"t":177,"s":-1.09},{"t":178,"s":0.2},{"t":179,"s":-0.45},{"t":180,"s":0.4},{"t":181,"s":-0.3},{"t":182,"s":0.3},{"t":183,"s":-0.55},{"t":184,"s":0.2},{"t":185,"s":-0.7},{"t":186,"s":0.5},{"t":187,"s":-0.85},{"t":188,"s":0.6},{"t":189,"s":-0.35},{"t":190,"s":0.25},{"t":191,"s":-0.45},{"t":192,"s":0.35},{"t":193,"s":-0.6},{"t":194,"s":0.3},{"t":195,"s":-0.25},{"t":196,"s":0.4},{"t":197,"s":-0.5},{"t":198,"s":0.2},{"t":199,"s":-0.3},{"t":200,"s":0.35},{"t":201,"s":0.75},{"t":202,"s":-0.5},{"t":203,"s":0.3},{"t":204,"s":-0.4},{"t":205,"s":0.2},{"t":206,"s":-0.6},{"t":207,"s":0.45},{"t":208,"s":-0.3},{"t":209,"s":0.25},{"t":210,"s":-0.7},{"t":211,"s":0.4},{"t":212,"s":-0.35},{"t":213,"s":0.5},{"t":214,"s":-0.55},{"t":215,"s":0.3},{"t":216,"s":-0.2},{"t":217,"s":0.4},{"t":218,"s":-0.45},{"t":219,"s":0.35},{"t":220,"s":-0.2},{"t":221,"s":0.3},{"t":222,"s":-0.8},{"t":223,"s":0.25},{"t":224,"s":-0.4},{"t":225,"s":0.5},{"t":226,"s":-0.3},{"t":227,"s":0.35},{"t":228,"s":-0.6},{"t":229,"s":0.2},{"t":230,"s":-0.35},{"t":231,"s":0.3},{"t":232,"s":-0.55},{"t":233,"s":0.4},{"t":234,"s":-0.25},{"t":235,"s":0.2},{"t":236,"s":2.58},{"t":237,"s":-0.5},{"t":238,"s":0.3},{"t":239,"s":-0.4},{"t":240,"s":0.35},{"t":241,"s":-0.45},{"t":242,"s":0.25},{"t":243,"s":-0.3},{"t":244,"s":0.5},{"t":245,"s":-0.6},{"t":246,"s":0.3},{"t":247,"s":-0.4},{"t":248,"s":0.2},{"t":249,"s":-0.5},{"t":250,"s":-0.95},{"t":251,"s":0.4},{"t":252,"s":-0.3},{"t":253,"s":0.25},{"t":254,"s":-0.55},{"t":255,"s":0.45},{"t":256,"s":-0.6},{"t":257,"s":0.3},{"t":258,"s":-0.2},{"t":259,"s":0.35},{"t":260,"s":-0.5},{"t":261,"s":0.55},{"t":262,"s":-0.35},{"t":263,"s":0.2},{"t":264,"s":-0.45},{"t":265,"s":0.3},{"t":266,"s":-0.7},{"t":267,"s":0.4},{"t":268,"s":-0.25},{"t":269,"s":0.35},{"t":270,"s":-0.3},{"t":271,"s":0.45},{"t":272,"s":-0.55},{"t":273,"s":0.2},{"t":274,"s":-0.4},{"t":275,"s":0.5},{"t":276,"s":-0.2},{"t":277,"s":0.3},{"t":278,"s":-0.6},{"t":279,"s":0.35},{"t":280,"s":-0.3},{"t":281,"s":-1.37},{"t":282,"s":0.45},{"t":283,"s":-0.35},{"t":284,"s":0.3},{"t":285,"s":-0.5},{"t":286,"s":0.25},{"t":287,"s":-0.4},{"t":288,"s":0.4},{"t":289,"s":-0.25},{"t":290,"s":0.55},{"t":291,"s":-0.6},{"t":292,"s":0.2},{"t":293,"s":-0.45},{"t":294,"s":0.35},{"t":295,"s":-0.3},{"t":296,"s":0.4},{"t":297,"s":-0.55},{"t":298,"s":0.25},{"t":299,"s":-0.35},{"t":300,"s":1.63},{"t":301,"s":-0.5},{"t":302,"s":0.3},{"t":303,"s":-1.09},{"t":304,"s":0.4},{"t":305,"s":-0.35},{"t":306,"s":0.3},{"t":307,"s":-0.6},{"t":308,"s":0.25},{"t":309,"s":-0.4},{"t":310,"s":0.2},{"t":311,"s":-0.3},{"t":312,"s":0.1}],
"kV": [{"t":0,"s":-0.1},{"t":1,"s":-0.8},{"t":2,"s":0.1},{"t":3,"s":-0.6},{"t":4,"s":0.2},{"t":5,"s":-0.95},{"t":6,"s":-0.2},{"t":7,"s":-1.3},{"t":8,"s":0.05},{"t":9,"s":-0.7},{"t":10,"s":0.15},{"t":11,"s":-0.5},{"t":12,"s":-0.1},{"t":13,"s":-0.95},{"t":14,"s":0.2},{"t":15,"s":-0.45},{"t":16,"s":0.05},{"t":17,"s":-1.0},{"t":18,"s":0.25},{"t":19,"s":-0.7},{"t":20,"s":-0.05},{"t":21,"s":-1.1},{"t":22,"s":0.2},{"t":23,"s":-0.55},{"t":24,"s":0.3},{"t":25,"s":-0.85},{"t":26,"s":0},{"t":27,"s":-0.65},{"t":28,"s":0.15},{"t":29,"s":-1.05},{"t":30,"s":0.25},{"t":31,"s":-0.5},{"t":32,"s":0.1},{"t":33,"s":-0.9},{"t":34,"s":-1.37},{"t":35,"s":0.1},{"t":36,"s":-0.75},{"t":37,"s":0.3},{"t":38,"s":-0.6},{"t":39,"s":0.05},{"t":40,"s":-1.0},{"t":41,"s":0.2},{"t":42,"s":-0.7},{"t":43,"s":0.35},{"t":44,"s":-0.9},{"t":45,"s":0},{"t":46,"s":-0.55},{"t":47,"s":0.3},{"t":48,"s":-1.1},{"t":49,"s":0.15},{"t":50,"s":-0.6},{"t":51,"s":0.4},{"t":52,"s":-0.85},{"t":53,"s":0.1},{"t":54,"s":-1.2},{"t":55,"s":0.2},{"t":56,"s":-0.5},{"t":57,"s":0.3},{"t":58,"s":-1.0},{"t":59,"s":0.05},{"t":60,"s":-0.75},{"t":61,"s":0.25},{"t":62,"s":-0.6},{"t":63,"s":0.35},{"t":64,"s":-1.05},{"t":65,"s":0.1},{"t":66,"s":-0.8},{"t":67,"s":0.3},{"t":68,"s":-0.55},{"t":69,"s":0.2},{"t":70,"s":-1.45},{"t":71,"s":0.05},{"t":72,"s":-0.7},{"t":73,"s":0.3},{"t":74,"s":-0.9},{"t":75,"s":0.2},{"t":76,"s":-0.5},{"t":77,"s":0.4},{"t":78,"s":-1.1},{"t":79,"s":0.15},{"t":80,"s":-0.6},{"t":81,"s":0.45},{"t":82,"s":-0.95},{"t":83,"s":0.1},{"t":84,"s":-0.7},{"t":85,"s":0.3},{"t":86,"s":-1.0},{"t":87,"s":0.2},{"t":88,"s":-0.5},{"t":89,"s":0.35},{"t":90,"s":0.6},{"t":91,"s":-0.8},{"t":92,"s":0.3},{"t":93,"s":-1.2},{"t":94,"s":0.2},{"t":95,"s":-0.55},{"t":96,"s":0.4},{"t":97,"s":-1.0},{"t":98,"s":0.1},{"t":99,"s":-0.7},{"t":100,"s":0.3},{"t":101,"s":-0.9},{"t":102,"s":0.15},{"t":103,"s":-0.6},{"t":104,"s":0.35},{"t":105,"s":-1.05},{"t":106,"s":0},{"t":107,"s":-0.55},{"t":108,"s":0.25},{"t":109,"s":-0.85},{"t":110,"s":0.1},{"t":111,"s":-0.7},{"t":112,"s":0.3},{"t":113,"s":-0.9},{"t":114,"s":0.2},{"t":115,"s":-0.5},{"t":116,"s":0.35},{"t":117,"s":-1.0},{"t":118,"s":0.15},{"t":119,"s":-0.6},{"t":120,"s":0.25},{"t":121,"s":-0.8},{"t":122,"s":0.1},{"t":123,"s":-0.95},{"t":124,"s":0.3},{"t":125,"s":-0.6},{"t":126,"s":0.2},{"t":127,"s":-1.05},{"t":128,"s":0.05},{"t":129,"s":-0.7},{"t":130,"s":0.35},{"t":131,"s":-0.55},{"t":132,"s":0.2},{"t":133,"s":-0.9},{"t":134,"s":0.5},{"t":135,"s":-0.8},{"t":136,"s":0.3},{"t":137,"s":-0.6},{"t":138,"s":0.8},{"t":139,"s":-0.9},{"t":140,"s":0.3},{"t":141,"s":-0.6},{"t":142,"s":0.2},{"t":143,"s":-1.0},{"t":144,"s":0.1},{"t":145,"s":-1.53},{"t":146,"s":0.25},{"t":147,"s":-0.7},{"t":148,"s":0.35},{"t":149,"s":-0.85},{"t":150,"s":0.3},{"t":151,"s":-1.0},{"t":152,"s":0.2},{"t":153,"s":-0.55},{"t":154,"s":0.4},{"t":155,"s":-0.85},{"t":156,"s":0.1},{"t":157,"s":-0.6},{"t":158,"s":0.25},{"t":159,"s":-1.1},{"t":160,"s":0.15},{"t":161,"s":-0.7},{"t":162,"s":0.35},{"t":163,"s":-0.9},{"t":164,"s":0.05},{"t":165,"s":-0.6},{"t":166,"s":0.3},{"t":167,"s":-1.0},{"t":168,"s":0.2},{"t":169,"s":-0.75},{"t":170,"s":0.3},{"t":171,"s":-0.95},{"t":172,"s":0.1},{"t":173,"s":-0.6},{"t":174,"s":0.35},{"t":175,"s":-0.8},{"t":176,"s":0.2},{"t":177,"s":-1.0},{"t":178,"s":-1.5},{"t":179,"s":0.25},{"t":180,"s":-0.8},{"t":181,"s":0.4},{"t":182,"s":-0.6},{"t":183,"s":0.2},{"t":184,"s":-0.95},{"t":185,"s":0.3},{"t":186,"s":-0.7},{"t":187,"s":0.5},{"t":188,"s":-1.0},{"t":189,"s":0.2},{"t":190,"s":1.02},{"t":191,"s":-0.9},{"t":192,"s":0.3},{"t":193,"s":-0.6},{"t":194,"s":0.2},{"t":195,"s":-1.4},{"t":196,"s":0.35},{"t":197,"s":-0.7},{"t":198,"s":0.45},{"t":199,"s":-1.0},{"t":200,"s":0.3},{"t":201,"s":-0.55},{"t":202,"s":0.5},{"t":203,"s":-0.85},{"t":204,"s":0.25},{"t":205,"s":-0.7},{"t":206,"s":0.4},{"t":207,"s":-1.1},{"t":208,"s":0.3},{"t":209,"s":-0.6},{"t":210,"s":0.55},{"t":211,"s":-0.9},{"t":212,"s":0.2},{"t":213,"s":-1.05},{"t":214,"s":0.45},{"t":215,"s":-0.8},{"t":216,"s":0.35},{"t":217,"s":-0.6},{"t":218,"s":0.3},{"t":219,"s":-1.0},{"t":220,"s":0.4},{"t":221,"s":-0.7},{"t":222,"s":0.2},{"t":223,"s":-0.95},{"t":224,"s":0.5},{"t":225,"s":-0.85},{"t":226,"s":0.3},{"t":227,"s":-0.6},{"t":228,"s":0.1},{"t":229,"s":3.36},{"t":230,"s":-0.9},{"t":231,"s":0.5},{"t":232,"s":-1.0},{"t":233,"s":0.4},{"t":234,"s":-0.7},{"t":235,"s":0.3},{"t":236,"s":-0.85},{"t":237,"s":0.45},{"t":238,"s":1.0},{"t":239,"s":-0.95},{"t":240,"s":0.3},{"t":241,"s":-1.1},{"t":242,"s":0.45},{"t":243,"s":-0.6},{"t":244,"s":0.2},{"t":245,"s":-0.95},{"t":246,"s":0.35},{"t":247,"s":-0.7},{"t":248,"s":0.1},{"t":249,"s":-0.85},{"t":250,"s":0.3},{"t":251,"s":-0.6},{"t":252,"s":0.2},{"t":253,"s":-1.0},{"t":254,"s":0.15},{"t":255,"s":-1.37},{"t":256,"s":0.3},{"t":257,"s":-0.8},{"t":258,"s":0.25},{"t":259,"s":-0.6},{"t":260,"s":0.4},{"t":261,"s":-1.0},{"t":262,"s":0.15},{"t":263,"s":-0.7},{"t":264,"s":0.3},{"t":265,"s":-0.9},{"t":266,"s":0.2},{"t":267,"s":-0.6},{"t":268,"s":0.35},{"t":269,"s":-1.05},{"t":270,"s":0.1},{"t":271,"s":-0.75},{"t":272,"s":0.3},{"t":273,"s":-0.95},{"t":274,"s":0.2},{"t":275,"s":-0.6},{"t":276,"s":0.35},{"t":277,"s":-0.85},{"t":278,"s":0.05},{"t":279,"s":-1.0},{"t":280,"s":0.3},{"t":281,"s":-0.7},{"t":282,"s":0.15},{"t":283,"s":-0.9},{"t":284,"s":0.25},{"t":285,"s":-0.6},{"t":286,"s":0.35},{"t":287,"s":-1.0},{"t":288,"s":-1.45},{"t":289,"s":0.15},{"t":290,"s":-0.8},{"t":291,"s":0.3},{"t":292,"s":-0.7},{"t":293,"s":0.25},{"t":294,"s":-1.0},{"t":295,"s":0.2},{"t":296,"s":-0.65},{"t":297,"s":0.3},{"t":298,"s":-0.9},{"t":299,"s":0.1},{"t":300,"s":-0.6},{"t":301,"s":0.25},{"t":302,"s":-0.85},{"t":303,"s":0.2},{"t":304,"s":-0.7},{"t":305,"s":0.15},{"t":306,"s":-1.5},{"t":307,"s":0.2},{"t":308,"s":-0.7},{"t":309,"s":0.15},{"t":310,"s":-0.5},{"t":311,"s":0.1},{"t":312,"s":-0.4}]
},
"spacing": 9.9,
"vconcat": [
{"hconcat": [
{"width": 312, "height": 168, "title": {"text": "Premature Atrial Contraction"},
 "layer": [
  {"data": {"name": "gA"}, "mark": {"type": "rule", "color": "#a3a3a3", "strokeDash": [2, 2], "strokeWidth": 0.8}, "encoding": {"x": {"field": "b", "type": "quantitative", "scale": {"domain": [0, 312], "nice": false}, "axis": null}}},
  {"data": {"name": "eA"}, "mark": {"type": "rect", "color": "#e2d6ff"}, "encoding": {"x": {"field": "start", "type": "quantitative", "scale": {"domain": [0, 312], "nice": false}, "axis": null}, "x2": {"field": "end"}, "y": {"datum": -2, "scale": {"domain": [-2, 2], "nice": false}, "axis": null}, "y2": {"datum": -1.35}}},
  {"data": {"values": [{"m": "Grad-CAM"}]}, "mark": {"type": "rect", "color": "#fbe8cf"}, "encoding": {"x": {"datum": 0.6, "scale": {"domain": [0, 312], "nice": false}, "axis": null}, "x2": {"datum": 104}, "y": {"datum": 2, "scale": {"domain": [-2, 2], "nice": false}, "axis": null}, "y2": {"datum": 1.36}}},
  {"data": {"name": "cA"}, "mark": {"type": "line", "interpolate": "step-after", "color": "#93c28d", "strokeWidth": 1.5}, "encoding": {"x": {"field": "t", "type": "quantitative", "scale": {"domain": [0, 312], "nice": false}, "axis": null}, "y": {"field": "a", "type": "quantitative", "scale": {"domain": [0, 1], "nice": false}, "axis": null}}},
  {"data": {"name": "ecgA"}, "mark": {"type": "line", "color": "#3c3ca8", "strokeWidth": 1.1}, "encoding": {"x": {"field": "t", "type": "quantitative", "scale": {"domain": [0, 312], "nice": false}, "axis": null}, "y": {"field": "v", "type": "quantitative", "scale": {"domain": [-2, 2], "nice": false}, "axis": null}}},
  {"data": {"name": "eA"}, "mark": {"type": "text", "font": "Liberation Serif", "fontSize": 19, "color": "#8a4cff", "align": "center", "baseline": "alphabetic"}, "encoding": {"x": {"field": "mid", "type": "quantitative", "scale": {"domain": [0, 312], "nice": false}, "axis": null}, "y": {"datum": -1.82, "scale": {"domain": [-2, 2], "nice": false}, "axis": null}, "text": {"field": "ev"}}},
  {"data": {"values": [{"m": "Grad-CAM"}]}, "mark": {"type": "text", "font": "Liberation Serif", "fontSize": 21, "color": "#000", "align": "left", "baseline": "alphabetic"}, "encoding": {"x": {"datum": 3.3, "scale": {"domain": [0, 312], "nice": false}, "axis": null}, "y": {"datum": 1.5, "scale": {"domain": [-2, 2], "nice": false}, "axis": null}, "text": {"field": "m"}}}
 ],
 "resolve": {"scale": {"y": "independent"}}},
{"width": 312, "height": 168, "title": {"text": "Premature Ventricular Contraction"},
 "layer": [
  {"data": {"name": "gV"}, "mark": {"type": "rule", "color": "#a3a3a3", "strokeDash": [2, 2], "strokeWidth": 0.8}, "encoding": {"x": {"field": "b", "type": "quantitative", "scale": {"domain": [0, 312], "nice": false}, "axis": null}}},
  {"data": {"name": "eV"}, "mark": {"type": "rect", "color": "#e2d6ff"}, "encoding": {"x": {"field": "start", "type": "quantitative", "scale": {"domain": [0, 312], "nice": false}, "axis": null}, "x2": {"field": "end"}, "y": {"datum": -2, "scale": {"domain": [-2, 2], "nice": false}, "axis": null}, "y2": {"datum": -1.35}}},
  {"data": {"values": [{"m": "Grad-CAM"}]}, "mark": {"type": "rect", "color": "#fbe8cf"}, "encoding": {"x": {"datum": 0.6, "scale": {"domain": [0, 312], "nice": false}, "axis": null}, "x2": {"datum": 104}, "y": {"datum": 2, "scale": {"domain": [-2, 2], "nice": false}, "axis": null}, "y2": {"datum": 1.36}}},
  {"data": {"name": "cV"}, "mark": {"type": "line", "interpolate": "step-after", "color": "#93c28d", "strokeWidth": 1.5}, "encoding": {"x": {"field": "t", "type": "quantitative", "scale": {"domain": [0, 312], "nice": false}, "axis": null}, "y": {"field": "a", "type": "quantitative", "scale": {"domain": [0, 1], "nice": false}, "axis": null}}},
  {"data": {"name": "ecgV"}, "mark": {"type": "line", "color": "#3c3ca8", "strokeWidth": 1.1}, "encoding": {"x": {"field": "t", "type": "quantitative", "scale": {"domain": [0, 312], "nice": false}, "axis": null}, "y": {"field": "v", "type": "quantitative", "scale": {"domain": [-2, 2], "nice": false}, "axis": null}}},
  {"data": {"name": "eV"}, "mark": {"type": "text", "font": "Liberation Serif", "fontSize": 19, "color": "#8a4cff", "align": "center", "baseline": "alphabetic"}, "encoding": {"x": {"field": "mid", "type": "quantitative", "scale": {"domain": [0, 312], "nice": false}, "axis": null}, "y": {"datum": -1.82, "scale": {"domain": [-2, 2], "nice": false}, "axis": null}, "text": {"field": "ev"}}},
  {"data": {"values": [{"m": "Grad-CAM"}]}, "mark": {"type": "text", "font": "Liberation Serif", "fontSize": 21, "color": "#000", "align": "left", "baseline": "alphabetic"}, "encoding": {"x": {"datum": 3.3, "scale": {"domain": [0, 312], "nice": false}, "axis": null}, "y": {"datum": 1.5, "scale": {"domain": [-2, 2], "nice": false}, "axis": null}, "text": {"field": "m"}}}
 ],
 "resolve": {"scale": {"y": "independent"}}}
], "spacing": 8},
{"spacing": 6.4, "vconcat": [
{"hconcat": [
{"width": 312, "height": 168,
 "layer": [
  {"data": {"name": "gA"}, "mark": {"type": "rule", "color": "#a3a3a3", "strokeDash": [2, 2], "strokeWidth": 0.8}, "encoding": {"x": {"field": "b", "type": "quantitative", "scale": {"domain": [0, 312], "nice": false}, "axis": null}}},
  {"data": {"name": "eA"}, "mark": {"type": "rect", "color": "#e2d6ff"}, "encoding": {"x": {"field": "start", "type": "quantitative", "scale": {"domain": [0, 312], "nice": false}, "axis": null}, "x2": {"field": "end"}, "y": {"datum": -2, "scale": {"domain": [-2, 2], "nice": false}, "axis": null}, "y2": {"datum": -1.33}}},
  {"data": {"values": [{"m": "Integrated Gradients"}]}, "mark": {"type": "rect", "color": "#fbe8cf"}, "encoding": {"x": {"datum": 0.6, "scale": {"domain": [0, 312], "nice": false}, "axis": null}, "x2": {"datum": 180}, "y": {"datum": 2, "scale": {"domain": [-2, 2], "nice": false}, "axis": null}, "y2": {"datum": 1.35}}},
  {"data": {"name": "iA"}, "mark": {"type": "line", "color": "#7fb27a", "strokeWidth": 1, "opacity": 0.85}, "encoding": {"x": {"field": "t", "type": "quantitative", "scale": {"domain": [0, 312], "nice": false}, "axis": null}, "y": {"field": "a", "type": "quantitative", "scale": {"domain": [0, 1], "nice": false}, "axis": null}}},
  {"data": {"name": "ecgA"}, "mark": {"type": "line", "color": "#3c3ca8", "strokeWidth": 1.1}, "encoding": {"x": {"field": "t", "type": "quantitative", "scale": {"domain": [0, 312], "nice": false}, "axis": null}, "y": {"field": "v", "type": "quantitative", "scale": {"domain": [-2, 2], "nice": false}, "axis": null}}},
  {"data": {"name": "eA"}, "mark": {"type": "text", "font": "Liberation Serif", "fontSize": 19, "color": "#8a4cff", "align": "center", "baseline": "alphabetic"}, "encoding": {"x": {"field": "mid", "type": "quantitative", "scale": {"domain": [0, 312], "nice": false}, "axis": null}, "y": {"datum": -1.78, "scale": {"domain": [-2, 2], "nice": false}, "axis": null}, "text": {"field": "ev"}}},
  {"data": {"values": [{"m": "Integrated Gradients"}]}, "mark": {"type": "text", "font": "Liberation Serif", "fontSize": 21, "color": "#000", "align": "left", "baseline": "alphabetic"}, "encoding": {"x": {"datum": 3.3, "scale": {"domain": [0, 312], "nice": false}, "axis": null}, "y": {"datum": 1.52, "scale": {"domain": [-2, 2], "nice": false}, "axis": null}, "text": {"field": "m"}}}
 ],
 "resolve": {"scale": {"y": "independent"}}},
{"width": 312, "height": 168,
 "layer": [
  {"data": {"name": "gV"}, "mark": {"type": "rule", "color": "#a3a3a3", "strokeDash": [2, 2], "strokeWidth": 0.8}, "encoding": {"x": {"field": "b", "type": "quantitative", "scale": {"domain": [0, 312], "nice": false}, "axis": null}}},
  {"data": {"name": "eV"}, "mark": {"type": "rect", "color": "#e2d6ff"}, "encoding": {"x": {"field": "start", "type": "quantitative", "scale": {"domain": [0, 312], "nice": false}, "axis": null}, "x2": {"field": "end"}, "y": {"datum": -2, "scale": {"domain": [-2, 2], "nice": false}, "axis": null}, "y2": {"datum": -1.33}}},
  {"data": {"values": [{"m": "Integrated Gradients"}]}, "mark": {"type": "rect", "color": "#fbe8cf"}, "encoding": {"x": {"datum": 0.6, "scale": {"domain": [0, 312], "nice": false}, "axis": null}, "x2": {"datum": 180}, "y": {"datum": 2, "scale": {"domain": [-2, 2], "nice": false}, "axis": null}, "y2": {"datum": 1.35}}},
  {"data": {"name": "iV"}, "mark": {"type": "line", "color": "#7fb27a", "strokeWidth": 1, "opacity": 0.85}, "encoding": {"x": {"field": "t", "type": "quantitative", "scale": {"domain": [0, 312], "nice": false}, "axis": null}, "y": {"field": "a", "type": "quantitative", "scale": {"domain": [0, 1], "nice": false}, "axis": null}}},
  {"data": {"name": "ecgV"}, "mark": {"type": "line", "color": "#3c3ca8", "strokeWidth": 1.1}, "encoding": {"x": {"field": "t", "type": "quantitative", "scale": {"domain": [0, 312], "nice": false}, "axis": null}, "y": {"field": "v", "type": "quantitative", "scale": {"domain": [-2, 2], "nice": false}, "axis": null}}},
  {"data": {"name": "eV"}, "mark": {"type": "text", "font": "Liberation Serif", "fontSize": 19, "color": "#8a4cff", "align": "center", "baseline": "alphabetic"}, "encoding": {"x": {"field": "mid", "type": "quantitative", "scale": {"domain": [0, 312], "nice": false}, "axis": null}, "y": {"datum": -1.78, "scale": {"domain": [-2, 2], "nice": false}, "axis": null}, "text": {"field": "ev"}}},
  {"data": {"values": [{"m": "Integrated Gradients"}]}, "mark": {"type": "text", "font": "Liberation Serif", "fontSize": 21, "color": "#000", "align": "left", "baseline": "alphabetic"}, "encoding": {"x": {"datum": 3.3, "scale": {"domain": [0, 312], "nice": false}, "axis": null}, "y": {"datum": 1.52, "scale": {"domain": [-2, 2], "nice": false}, "axis": null}, "text": {"field": "m"}}}
 ],
 "resolve": {"scale": {"y": "independent"}}}
], "spacing": 8},
{"hconcat": [
{"width": 312, "height": 168,
 "layer": [
  {"data": {"name": "gA"}, "mark": {"type": "rule", "color": "#a3a3a3", "strokeDash": [2, 2], "strokeWidth": 0.8}, "encoding": {"x": {"field": "b", "type": "quantitative", "scale": {"domain": [0, 312], "nice": false}, "axis": null}}},
  {"data": {"name": "eA"}, "mark": {"type": "rect", "color": "#e2d6ff"}, "encoding": {"x": {"field": "start", "type": "quantitative", "scale": {"domain": [0, 312], "nice": false}, "axis": null}, "x2": {"field": "end"}, "y": {"datum": -2, "scale": {"domain": [-2, 2], "nice": false}, "axis": null}, "y2": {"datum": -1.38}}},
  {"data": {"values": [{"m": "KernelSHAP"}]}, "mark": {"type": "rect", "color": "#fbe8cf"}, "encoding": {"x": {"datum": 0.6, "scale": {"domain": [0, 312], "nice": false}, "axis": null}, "x2": {"datum": 118}, "y": {"datum": 2, "scale": {"domain": [-2, 2], "nice": false}, "axis": null}, "y2": {"datum": 1.35}}},
  {"data": {"name": "kA"}, "mark": {"type": "line", "color": "#6fa06a", "strokeWidth": 0.9, "opacity": 0.75}, "encoding": {"x": {"field": "t", "type": "quantitative", "scale": {"domain": [0, 312], "nice": false}, "axis": null}, "y": {"field": "s", "type": "quantitative", "scale": {"domain": [-2, 3.6], "nice": false}, "axis": null}}},
  {"data": {"name": "ecgA"}, "mark": {"type": "line", "color": "#3c3ca8", "strokeWidth": 1.1}, "encoding": {"x": {"field": "t", "type": "quantitative", "scale": {"domain": [0, 312], "nice": false}, "axis": null}, "y": {"field": "v", "type": "quantitative", "scale": {"domain": [-2, 2], "nice": false}, "axis": null}}},
  {"data": {"name": "eA"}, "mark": {"type": "text", "font": "Liberation Serif", "fontSize": 19, "color": "#8a4cff", "align": "center", "baseline": "alphabetic"}, "encoding": {"x": {"field": "mid", "type": "quantitative", "scale": {"domain": [0, 312], "nice": false}, "axis": null}, "y": {"datum": -1.83, "scale": {"domain": [-2, 2], "nice": false}, "axis": null}, "text": {"field": "ev"}}},
  {"data": {"values": [{"m": "KernelSHAP"}]}, "mark": {"type": "text", "font": "Liberation Serif", "fontSize": 21, "color": "#000", "align": "left", "baseline": "alphabetic"}, "encoding": {"x": {"datum": 3.3, "scale": {"domain": [0, 312], "nice": false}, "axis": null}, "y": {"datum": 1.47, "scale": {"domain": [-2, 2], "nice": false}, "axis": null}, "text": {"field": "m"}}}
 ],
 "resolve": {"scale": {"y": "independent"}}},
{"width": 312, "height": 168,
 "layer": [
  {"data": {"name": "gV"}, "mark": {"type": "rule", "color": "#a3a3a3", "strokeDash": [2, 2], "strokeWidth": 0.8}, "encoding": {"x": {"field": "b", "type": "quantitative", "scale": {"domain": [0, 312], "nice": false}, "axis": null}}},
  {"data": {"name": "eV"}, "mark": {"type": "rect", "color": "#e2d6ff"}, "encoding": {"x": {"field": "start", "type": "quantitative", "scale": {"domain": [0, 312], "nice": false}, "axis": null}, "x2": {"field": "end"}, "y": {"datum": -2, "scale": {"domain": [-2, 2], "nice": false}, "axis": null}, "y2": {"datum": -1.38}}},
  {"data": {"values": [{"m": "KernelSHAP"}]}, "mark": {"type": "rect", "color": "#fbe8cf"}, "encoding": {"x": {"datum": 0.6, "scale": {"domain": [0, 312], "nice": false}, "axis": null}, "x2": {"datum": 118}, "y": {"datum": 2, "scale": {"domain": [-2, 2], "nice": false}, "axis": null}, "y2": {"datum": 1.35}}},
  {"data": {"name": "kV"}, "mark": {"type": "line", "color": "#6fa06a", "strokeWidth": 0.9, "opacity": 0.75}, "encoding": {"x": {"field": "t", "type": "quantitative", "scale": {"domain": [0, 312], "nice": false}, "axis": null}, "y": {"field": "s", "type": "quantitative", "scale": {"domain": [-2, 3.6], "nice": false}, "axis": null}}},
  {"data": {"name": "ecgV"}, "mark": {"type": "line", "color": "#3c3ca8", "strokeWidth": 1.1}, "encoding": {"x": {"field": "t", "type": "quantitative", "scale": {"domain": [0, 312], "nice": false}, "axis": null}, "y": {"field": "v", "type": "quantitative", "scale": {"domain": [-2, 2], "nice": false}, "axis": null}}},
  {"data": {"name": "eV"}, "mark": {"type": "text", "font": "Liberation Serif", "fontSize": 19, "color": "#8a4cff", "align": "center", "baseline": "alphabetic"}, "encoding": {"x": {"field": "mid", "type": "quantitative", "scale": {"domain": [0, 312], "nice": false}, "axis": null}, "y": {"datum": -1.83, "scale": {"domain": [-2, 2], "nice": false}, "axis": null}, "text": {"field": "ev"}}},
  {"data": {"values": [{"m": "KernelSHAP"}]}, "mark": {"type": "text", "font": "Liberation Serif", "fontSize": 21, "color": "#000", "align": "left", "baseline": "alphabetic"}, "encoding": {"x": {"datum": 3.3, "scale": {"domain": [0, 312], "nice": false}, "axis": null}, "y": {"datum": 1.47, "scale": {"domain": [-2, 2], "nice": false}, "axis": null}, "text": {"field": "m"}}}
 ],
 "resolve": {"scale": {"y": "independent"}}}
], "spacing": 8}
]}
]
}
